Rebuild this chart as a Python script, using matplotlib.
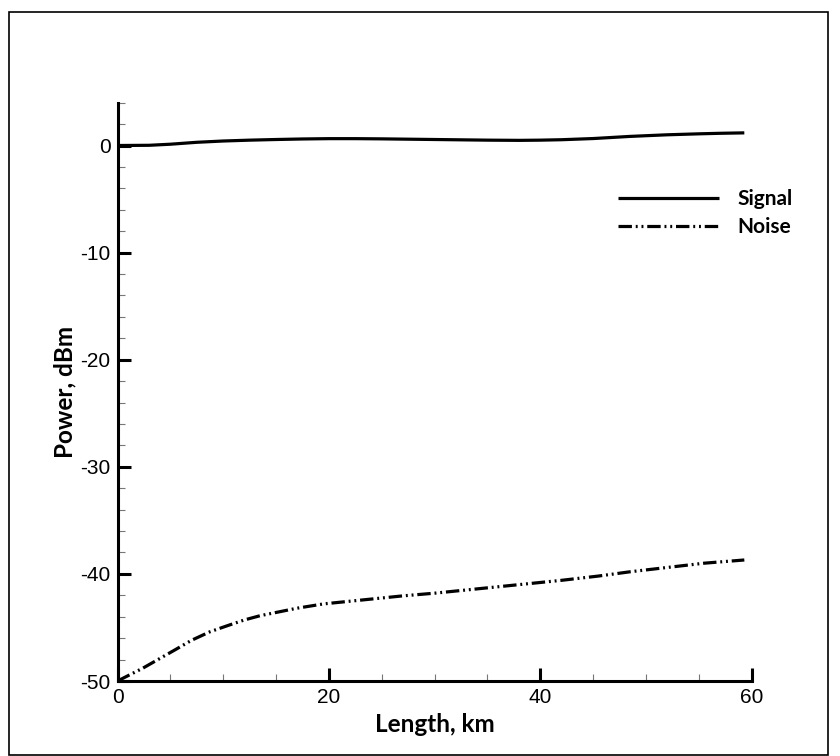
"""Signal and noise power along the fibre length."""

import matplotlib
matplotlib.use("Agg")
import matplotlib.pyplot as plt
import matplotlib.ticker as mticker
from matplotlib.patches import Rectangle

matplotlib.rcParams["axes.unicode_minus"] = False

# ---------------------------------------------------------------------------
# Data
# ---------------------------------------------------------------------------
signal_km = [0, 3, 5, 7.5, 10, 12.5, 15, 17.5, 20, 22.5, 25, 27.5, 30, 32.5,
             35, 38, 40, 42, 45, 48.5, 52, 55, 57, 59.3]
signal_dbm = [0.0, 0.02, 0.12, 0.3, 0.42, 0.5, 0.56, 0.61, 0.64, 0.64, 0.62,
              0.59, 0.56, 0.53, 0.5, 0.48, 0.5, 0.54, 0.65, 0.85, 1.0, 1.09,
              1.14, 1.18]

noise_km = [0, 1, 2.4, 4, 5.6, 7, 8.75, 10.5, 12, 13.5, 15, 17, 19.5, 22,
            24.5, 27, 30, 33, 36, 39, 42, 45.5, 48.5, 52, 55.5, 59.3]
noise_dbm = [-50.0, -49.5, -48.8, -47.9, -47.0, -46.2, -45.4, -44.8, -44.3,
             -43.9, -43.6, -43.2, -42.8, -42.55, -42.3, -42.05, -41.8, -41.5,
             -41.2, -40.9, -40.6, -40.2, -39.8, -39.4, -39.0, -38.7]

SANS = ["Liberation Sans", "DejaVu Sans"]
BOLD = ["Lato", "DejaVu Sans"]

fig = plt.figure(figsize=(8.4, 7.56), dpi=100)
ax = fig.add_axes([0.1399, 0.0992, 0.755, 0.765])

ax.plot(signal_km, signal_dbm, color="black", lw=2.3, label="Signal",
        solid_capstyle="butt")
ax.plot(noise_km, noise_dbm, color="black", lw=2.3, label="Noise",
        linestyle=(0, (4.2, 1.2, 0.6, 1.2, 0.6, 1.2)), dash_capstyle="butt")

ax.set_xlim(0, 60)
ax.set_ylim(-50, 4)
ax.spines["top"].set_visible(False)
ax.spines["right"].set_visible(False)
for side in ("left", "bottom"):
    ax.spines[side].set_linewidth(2.2)

ax.xaxis.set_major_locator(mticker.MultipleLocator(20))
ax.xaxis.set_minor_locator(mticker.MultipleLocator(5))
ax.yaxis.set_major_locator(mticker.MultipleLocator(10))
ax.yaxis.set_minor_locator(mticker.MultipleLocator(2))
ax.tick_params(which="major", direction="in", length=9.5, width=2.2,
               color="black", labelsize=15, pad=5)
ax.tick_params(which="minor", direction="in", length=5, width=0.8,
               color="#777777")
for lab in ax.get_xticklabels() + ax.get_yticklabels():
    lab.set_family(SANS)

ax.set_xlabel("Length, km", fontsize=17.5, fontweight="bold", family=BOLD,
              labelpad=4)
ax.set_ylabel("Power, dBm", fontsize=17.5, fontweight="bold", family=BOLD,
              labelpad=3)

leg = fig.legend(*ax.get_legend_handles_labels(), loc="center left",
                 bbox_to_anchor=(618 / 840, 1 - 213 / 756),
                 frameon=False, handlelength=4.85, handletextpad=0.87,
                 labelspacing=0.38, borderpad=0, borderaxespad=0,
                 prop={"family": BOLD, "weight": "bold", "size": 15})

# thin frame round the whole picture
fig.patches.append(Rectangle((9 / 840, 1 / 756), 819 / 840, 743 / 756,
                             transform=fig.transFigure, fill=False,
                             edgecolor="black", lw=1.2))

fig.savefig("out.png", dpi=100)
